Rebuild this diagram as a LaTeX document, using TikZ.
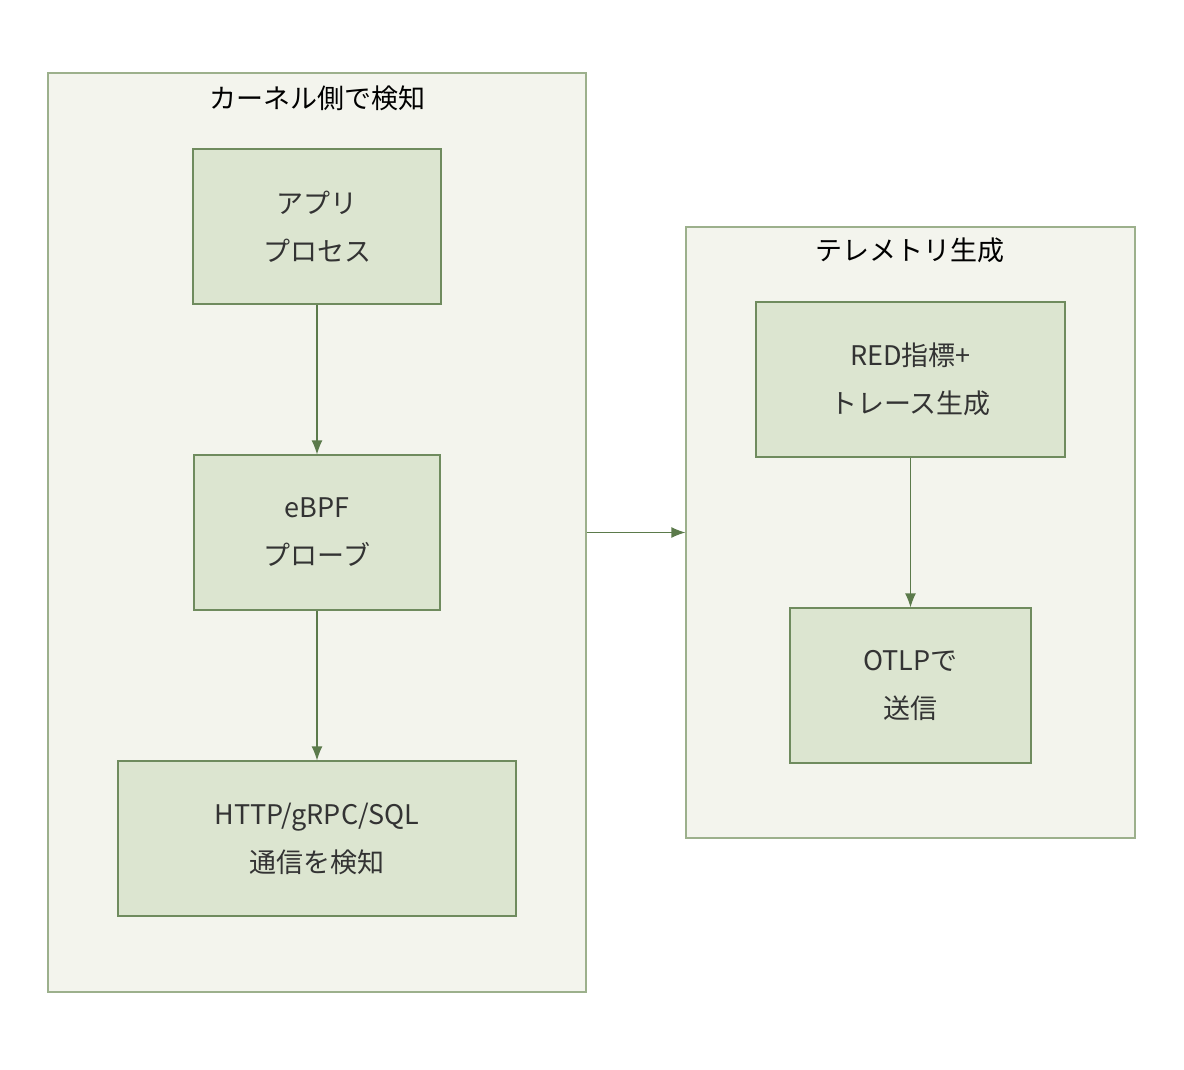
\documentclass[tikz,border=0pt]{standalone}
\usepackage{fontspec}
\setmainfont{Noto Sans CJK JP}
\usetikzlibrary{arrows.meta}
\definecolor{grpfill}{HTML}{F3F4ED}
\definecolor{grpline}{HTML}{9CB08C}
\definecolor{boxfill}{HTML}{DCE5D0}
\definecolor{boxline}{HTML}{6F8B5E}
\definecolor{arrcol}{HTML}{5B7A4B}
\definecolor{txt}{HTML}{333333}
\tikzset{
  grp/.style={draw=grpline,fill=grpfill,line width=1.2pt,inner sep=0pt},
  box/.style={draw=boxline,fill=boxfill,line width=1.2pt,align=center,text=txt,
    font=\fontsize{27}{48}\selectfont},
  ttl/.style={text=black,font=\fontsize{27}{32}\selectfont},
  flow/.style={-{Latex[length=14pt,width=11pt]},draw=arrcol,line width=1.2pt}
}
\begin{document}
\begin{tikzpicture}[x=1pt,y=-1pt]
\useasboundingbox (0,0) rectangle (1184,1070);
\node[grp,minimum width=538,minimum height=919] (kern) at (317,532.5) {};
\node[ttl] (kt) at (317,98) {カーネル側で検知};
\node[grp,minimum width=449,minimum height=611] (tele) at (910.5,532.5) {};
\node[ttl] (tt) at (910,250) {テレメトリ生成};
%
\node[box,minimum width=248,minimum height=155] (app) at (317,226.5) {アプリ\\プロセス};
\node[box,minimum width=246,minimum height=155] (ebpf) at (317,532.5) {eBPF\\プローブ};
\node[box,minimum width=398,minimum height=155] (http) at (317,838.5) {HTTP/gRPC/SQL\\通信を検知};
\node[box,minimum width=309,minimum height=155] (red) at (910.5,379.5) {RED指標+\\トレース生成};
\node[box,minimum width=241,minimum height=155] (otlp) at (910.5,685.5) {OTLPで\\送信};
%
\draw[flow] (app) -- (ebpf);
\draw[flow] (ebpf) -- (http);
\draw[flow] (red) -- (otlp);
\draw[flow] (kern.east) -- (tele.west);
\end{tikzpicture}
\end{document}
